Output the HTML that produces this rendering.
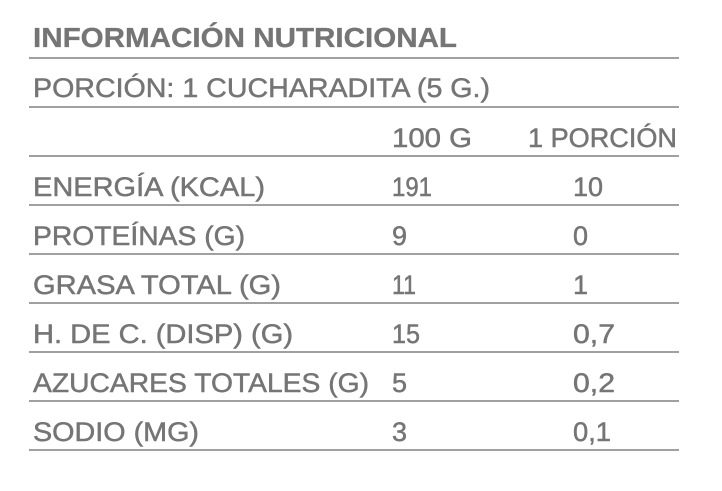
<!DOCTYPE html><html><head><style>body{margin:0;background:#fff}</style></head><body>
<svg width="722" height="486" xmlns="http://www.w3.org/2000/svg" font-family="Liberation Sans, sans-serif" fill="#757575" font-size="27" stroke="#757575" stroke-width="0.5">
<g stroke="#808080" stroke-width="1.5">
<line x1="29" x2="679" y1="58" y2="58"/><line x1="29" x2="679" y1="107" y2="107"/>
<line x1="29" x2="679" y1="156" y2="156"/><line x1="29" x2="679" y1="205" y2="205"/>
<line x1="29" x2="679" y1="254" y2="254"/><line x1="29" x2="679" y1="303" y2="303"/>
<line x1="29" x2="679" y1="352" y2="352"/><line x1="29" x2="679" y1="401" y2="401"/>
<line x1="29" x2="679" y1="450" y2="450"/></g>
<text x="33" y="47" font-size="28" font-weight="bold" stroke-width="0.3" textLength="424" lengthAdjust="spacingAndGlyphs">INFORMACIÓN NUTRICIONAL</text>
<text x="33" y="97" textLength="457" lengthAdjust="spacingAndGlyphs">PORCIÓN: 1 CUCHARADITA (5 G.)</text>
<text x="392" y="147" textLength="80" lengthAdjust="spacingAndGlyphs">100 G</text>
<text x="528" y="147" textLength="149" lengthAdjust="spacingAndGlyphs">1 PORCIÓN</text>
<text x="33" y="196" textLength="232" lengthAdjust="spacingAndGlyphs">ENERGÍA (KCAL)</text>
<text x="392" y="196" textLength="40" lengthAdjust="spacingAndGlyphs">191</text><text x="573" y="196">10</text>
<text x="33" y="245" textLength="212" lengthAdjust="spacingAndGlyphs">PROTEÍNAS (G)</text>
<text x="392" y="245">9</text><text x="573" y="245">0</text>
<text x="33" y="294" textLength="248" lengthAdjust="spacingAndGlyphs">GRASA TOTAL (G)</text>
<text x="392" y="294" textLength="24" lengthAdjust="spacingAndGlyphs">11</text><text x="573" y="294">1</text>
<text x="33" y="343" textLength="260" lengthAdjust="spacingAndGlyphs">H. DE C. (DISP) (G)</text>
<text x="392" y="343" textLength="28" lengthAdjust="spacingAndGlyphs">15</text><text x="573" y="343" textLength="42" lengthAdjust="spacingAndGlyphs">0,7</text>
<text x="33" y="392" textLength="336" lengthAdjust="spacingAndGlyphs">AZUCARES TOTALES (G)</text>
<text x="392" y="392">5</text><text x="573" y="392" textLength="42" lengthAdjust="spacingAndGlyphs">0,2</text>
<text x="33" y="441" textLength="166" lengthAdjust="spacingAndGlyphs">SODIO (MG)</text>
<text x="392" y="441">3</text><text x="573" y="441" textLength="38" lengthAdjust="spacingAndGlyphs">0,1</text>
</svg></body></html>
